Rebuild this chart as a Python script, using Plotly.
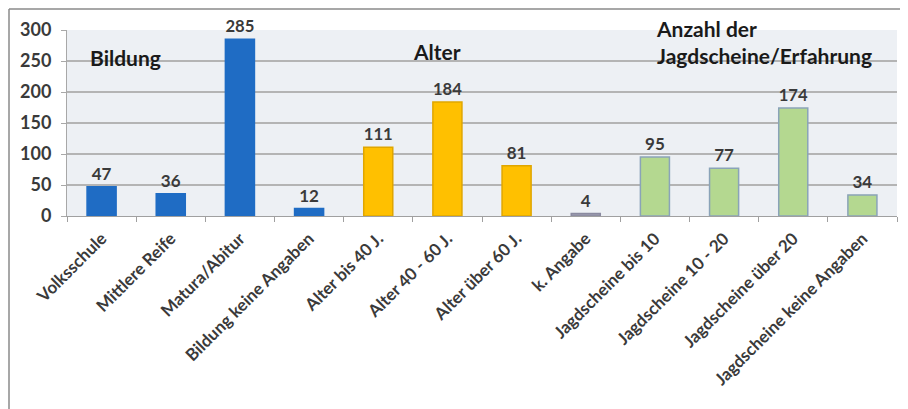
import plotly.graph_objects as go

categories = ["Volksschule", "Mittlere Reife", "Matura/Abitur", "Bildung keine Angaben",
              "Alter bis 40 J.", "Alter 40 - 60 J.", "Alter über 60 J.", "k. Angabe",
              "Jagdscheine bis 10", "Jagdscheine 10 - 20", "Jagdscheine über 20",
              "Jagdscheine keine Angaben"]
values = [47, 36, 285, 12, 111, 184, 81, 4, 95, 77, 174, 34]
fill_colors = ["#1f6cc4"] * 4 + ["#ffc000"] * 3 + ["#9a9aae"] + ["#b4d890"] * 4
line_colors = ["#1f6cc4"] * 4 + ["#e0a600"] * 3 + ["#8a8aa0"] + ["#8aa3b8"] * 4
y_ticks = [0, 50, 100, 150, 200, 250, 300]

FONT = "Lato"
OFF = 8  # page body margin offset
W, H = 908 - OFF, 409 - OFF
L, T = 67 - OFF, 30 - OFF
R = W - (897 - OFF)
B = H - (216 - OFF)
pw, ph = W - L - R, H - T - B

fig = go.Figure(go.Bar(
    x=categories, y=values,
    marker=dict(color=fill_colors, line=dict(color=line_colors, width=1.5)),
    text=[str(v) for v in values], textposition="outside",
    textfont=dict(family=FONT, size=17, color="#3a3a3a", weight="bold"),
    cliponaxis=False,
))

fig.update_layout(
    width=W, height=H,
    margin=dict(l=L, r=R, t=T, b=B),
    paper_bgcolor="white", plot_bgcolor="#edf0f4",
    bargap=0.58, showlegend=False,
    xaxis=dict(tickangle=-45, tickson="boundaries", ticks="outside", ticklen=5,
               tickcolor="#a0a0a0", showgrid=False, automargin=False,
               ticklabelstandoff=5,
               tickfont=dict(family=FONT, size=17, color="#3a3a3a", weight="bold"),
               showline=True, linecolor="#a0a0a0"),
    yaxis=dict(range=[0, 300], tickvals=y_ticks, ticks="outside", ticklen=5,
               tickcolor="#a8a8a8", gridcolor="#b4b4b4", gridwidth=1.5,
               showline=True, linecolor="#a8a8a8", zeroline=False, automargin=False,
               ticklabelstandoff=6,
               tickfont=dict(family=FONT, size=18, color="#3a3a3a", weight="bold")),
    font=dict(family=FONT),
)

def px(x):
    return (x - OFF - L) / pw

def py(y):
    return (H - B - (y - OFF)) / ph

ann_font = dict(family=FONT, size=21, color="#1a1a1a", weight="bold")
fig.add_annotation(text="Bildung", x=px(88), y=py(57), xref="paper", yref="paper",
                   xanchor="left", yanchor="middle", showarrow=False, font=ann_font)
fig.add_annotation(text="Alter", x=px(411), y=py(51), xref="paper", yref="paper",
                   xanchor="left", yanchor="middle", showarrow=False, font=ann_font)
fig.add_annotation(text="Anzahl der<br>Jagdscheine/Erfahrung", x=px(654), y=py(42),
                   xref="paper", yref="paper", xanchor="left", yanchor="middle",
                   align="left", showarrow=False, font=ann_font)

fig.add_shape(type="line", xref="paper", yref="paper", x0=px(9), x1=px(908),
              y0=py(9), y1=py(9), line=dict(color="#8a8a8a", width=1.5))
fig.add_shape(type="line", xref="paper", yref="paper", x0=px(9), x1=px(9),
              y0=py(9), y1=py(409), line=dict(color="#8a8a8a", width=1.5))

fig.write_html("out.html")
